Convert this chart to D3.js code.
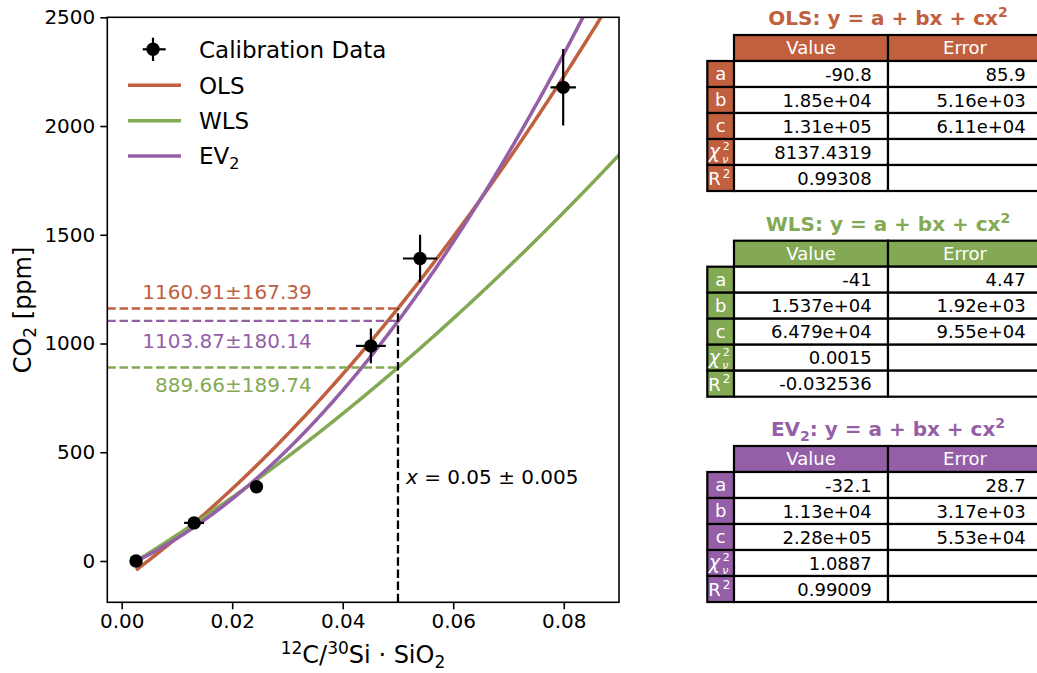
<!DOCTYPE html>
<html>
<head>
<meta charset="utf-8">
<script src="https://cdn.jsdelivr.net/npm/d3@7"></script>
<style>
body { margin: 0; background: white; }
text { font-family: "DejaVu Sans", sans-serif; }
</style>
</head>
<body>
<script>
// Données de calibration
const xData = [0.0026, 0.0131, 0.0244, 0.0451, 0.0540, 0.0799];
const yData = [0, 175, 341, 989, 1391, 2178];
const xErr = [0.0005, 0.0018, 0.0005, 0.0027, 0.0031, 0.0023];
const yErr = [10, 15, 15, 80, 109, 176];

// Ajustements
const fitNames = ["OLS", "WLS", "EV2"];
const fitColors = ["#c1603f", "#84a955", "#955fa8"];

// Valeurs des tableaux (a, b, c, chi2, R2)
const olsValue = ["-90.8", "1.85e+04", "1.31e+05", "8137.4319", "0.99308"];
const olsError = ["85.9", "5.16e+03", "6.11e+04", "", ""];
const wlsValue = ["-41", "1.537e+04", "6.479e+04", "0.0015", "-0.032536"];
const wlsError = ["4.47", "1.92e+03", "9.55e+04", "", ""];
const ev2Value = ["-32.1", "1.13e+04", "2.28e+05", "1.0887", "0.99009"];
const ev2Error = ["28.7", "3.17e+03", "5.53e+04", "", ""];
const fitValues = [olsValue, wlsValue, ev2Value];
const fitErrors = [olsError, wlsError, ev2Error];

// Estimations à x = 0.05
const xEstimate = 0.05;
const xEstimateErr = 0.005;
const estValue = [1160.91, 889.66, 1103.87];
const estError = [167.39, 189.74, 180.14];

const xTicks = [0, 0.02, 0.04, 0.06, 0.08];
const yTicks = [0, 500, 1000, 1500, 2000, 2500];

//Création du canva SVG
const svg = d3.select("body")
    .append("svg")
    .attr("width", 1037)
    .attr("height", 673)

const x = d3.scaleLinear().domain([-0.0026, 0.09]).range([107.3, 619])
const y = d3.scaleLinear().domain([-190, 2500]).range([602.3, 17.3])

svg.append("clipPath")
    .attr("id", "plot-clip")
    .append("rect")
    .attr("x", 107.3)
    .attr("y", 17.3)
    .attr("width", 619 - 107.3)
    .attr("height", 602.3 - 17.3)

//Axes
const xAxis = svg.append("g")
    .attr("transform", "translate(0,602.3)")
    .call(d3.axisBottom(x).tickValues(xTicks).tickFormat(d3.format(".2f"))
        .tickSize(7).tickPadding(5).tickSizeOuter(0))
xAxis.select(".domain").remove()

const yAxis = svg.append("g")
    .attr("transform", "translate(107.3,0)")
    .call(d3.axisLeft(y).tickValues(yTicks).tickFormat(d3.format("d"))
        .tickSize(7).tickPadding(5).tickSizeOuter(0))
yAxis.select(".domain").remove()

svg.selectAll(".tick text")
    .style("font-size", "20px")
    .style("font-family", "DejaVu Sans")
    .attr("fill", "#000")
svg.selectAll(".tick line")
    .attr("stroke", "#000")
    .attr("stroke-width", 1.6)

//Courbes des ajustements (a + bx + cx²)
const xCurve = d3.range(xData[0], 0.0906, 0.0002)
const plot = svg.append("g").attr("clip-path", "url(#plot-clip)")

fitValues.forEach((vals, i) => {
    const a = parseFloat(vals[0]), b = parseFloat(vals[1]), c = parseFloat(vals[2])
    const line = d3.line()
        .x(d => x(d))
        .y(d => y(a + b * d + c * d * d))
    plot.append("path")
        .datum(xCurve)
        .attr("d", line)
        .attr("fill", "none")
        .attr("stroke", fitColors[i])
        .attr("stroke-width", 3.5)
})

//Lignes pointillées des estimations
estValue.forEach((v, i) => {
    plot.append("line")
        .attr("x1", 107.3)
        .attr("x2", x(xEstimate))
        .attr("y1", y(v))
        .attr("y2", y(v))
        .attr("stroke", fitColors[i])
        .attr("stroke-width", 2.3)
        .attr("stroke-dasharray", "8.5,3.7")
})

plot.append("line")
    .attr("x1", x(xEstimate))
    .attr("x2", x(xEstimate))
    .attr("y1", 602.3)
    .attr("y2", y(d3.max(estValue)))
    .attr("stroke", "#000")
    .attr("stroke-width", 2.3)
    .attr("stroke-dasharray", "8.5,3.7")

//Textes des estimations
const labelOffsets = [-10, 24.3, 27.5]
estValue.forEach((v, i) => {
    svg.append("text")
        .attr("x", x(0.0344))
        .attr("y", y(v) + labelOffsets[i])
        .attr("text-anchor", "end")
        .style("font-size", "20px")
        .attr("fill", fitColors[i])
        .text(v.toFixed(2) + "±" + estError[i].toFixed(2))
})

const xText = svg.append("text")
    .attr("x", x(xEstimate) + 8)
    .attr("y", 484)
    .style("font-size", "20px")
xText.append("tspan").style("font-style", "italic").text("x")
xText.append("tspan").text(" = " + xEstimate.toFixed(2) + " ± " + xEstimateErr.toFixed(3))

//Points de calibration avec barres d'erreur
const points = plot.selectAll(".pt")
    .data(xData)
    .enter()
    .append("g")

points.append("line")
    .attr("x1", (d, i) => x(d - xErr[i]))
    .attr("x2", (d, i) => x(d + xErr[i]))
    .attr("y1", (d, i) => y(yData[i]))
    .attr("y2", (d, i) => y(yData[i]))
    .attr("stroke", "#000")
    .attr("stroke-width", 2.2)

points.append("line")
    .attr("x1", d => x(d))
    .attr("x2", d => x(d))
    .attr("y1", (d, i) => y(yData[i] - yErr[i]))
    .attr("y2", (d, i) => y(yData[i] + yErr[i]))
    .attr("stroke", "#000")
    .attr("stroke-width", 2.2)

points.append("circle")
    .attr("cx", d => x(d))
    .attr("cy", (d, i) => y(yData[i]))
    .attr("r", 6.7)
    .attr("fill", "#000")

//Cadre
svg.append("rect")
    .attr("x", 107.3)
    .attr("y", 17.3)
    .attr("width", 619 - 107.3)
    .attr("height", 602.3 - 17.3)
    .attr("fill", "none")
    .attr("stroke", "#000")
    .attr("stroke-width", 1.6)

//Titres des axes
const yLabel = svg.append("text")
    .attr("transform", "translate(31,310) rotate(-90)")
    .attr("text-anchor", "middle")
    .style("font-size", "24px")
yLabel.append("tspan").text("CO")
yLabel.append("tspan").attr("dy", 5).style("font-size", "17px").text("2")
yLabel.append("tspan").attr("dy", -5).text(" [ppm]")

const xLabel = svg.append("text")
    .attr("x", 363)
    .attr("y", 663)
    .attr("text-anchor", "middle")
    .style("font-size", "24px")
xLabel.append("tspan").attr("dy", -9).style("font-size", "17px").text("12")
xLabel.append("tspan").attr("dy", 9).text("C/")
xLabel.append("tspan").attr("dy", -9).style("font-size", "17px").text("30")
xLabel.append("tspan").attr("dy", 9).text("Si · SiO")
xLabel.append("tspan").attr("dy", 5).style("font-size", "17px").text("2")

//Légende
const legend = svg.append("g")
legend.append("line").attr("x1", 153).attr("x2", 153).attr("y1", 37.7).attr("y2", 61)
    .attr("stroke", "#000").attr("stroke-width", 2.2)
legend.append("line").attr("x1", 142.7).attr("x2", 165.7).attr("y1", 49.3).attr("y2", 49.3)
    .attr("stroke", "#000").attr("stroke-width", 2.2)
legend.append("circle").attr("cx", 153).attr("cy", 49.3).attr("r", 6.7).attr("fill", "#000")
legend.append("text").attr("x", 199).attr("y", 58.3).style("font-size", "23px").text("Calibration Data")

fitNames.forEach((name, i) => {
    const ly = 85.3 + i * 35.4
    legend.append("line")
        .attr("x1", 128).attr("x2", 181)
        .attr("y1", ly).attr("y2", ly)
        .attr("stroke", fitColors[i])
        .attr("stroke-width", 3.5)
    const t = legend.append("text")
        .attr("x", 199)
        .attr("y", ly + 8.3)
        .style("font-size", "23px")
    if (name === "EV2") {
        t.append("tspan").text("EV")
        t.append("tspan").attr("dy", 5).style("font-size", "16px").text("2")
    } else {
        t.text(name)
    }
})

//Tableaux des paramètres
const tableTops = [35, 240.7, 446]
const rowH = 26, labelX = 707.3, labelW = 26.7, colW = 154
const rowNames = ["a", "b", "c", "chi", "R2"]

fitNames.forEach((name, k) => {
    const top = tableTops[k]
    const color = fitColors[k]
    const g = svg.append("g")

    //Titre
    const title = g.append("text")
        .attr("x", labelX + labelW + colW)
        .attr("y", top - 10)
        .attr("text-anchor", "middle")
        .style("font-size", "20px")
        .style("font-weight", "bold")
        .attr("fill", color)
    if (name === "EV2") {
        title.append("tspan").text("EV")
        title.append("tspan").attr("dy", 5).style("font-size", "14px").text("2")
        title.append("tspan").attr("dy", -5).text(": y = a + bx + cx")
    } else {
        title.append("tspan").text(name + ": y = a + bx + cx")
    }
    title.append("tspan").attr("dy", -8).style("font-size", "14px").text("2")

    //En-têtes
    const headers = ["Value", "Error"]
    headers.forEach((h, j) => {
        const cx = labelX + labelW + j * colW
        g.append("rect")
            .attr("x", cx).attr("y", top)
            .attr("width", colW).attr("height", rowH)
            .attr("fill", color).attr("stroke", "#000").attr("stroke-width", 2.2)
        g.append("text")
            .attr("x", cx + colW / 2)
            .attr("y", top + rowH / 2 + 6)
            .attr("text-anchor", "middle")
            .style("font-size", "18px")
            .attr("fill", "#fff")
            .text(h)
    })

    //Lignes
    rowNames.forEach((r, i) => {
        const ry = top + rowH * (i + 1)
        g.append("rect")
            .attr("x", labelX).attr("y", ry)
            .attr("width", labelW).attr("height", rowH)
            .attr("fill", color).attr("stroke", "#000").attr("stroke-width", 2.2)
        const cols = [fitValues[k][i], fitErrors[k][i]]
        cols.forEach((v, j) => {
            const cx = labelX + labelW + j * colW
            g.append("rect")
                .attr("x", cx).attr("y", ry)
                .attr("width", colW).attr("height", rowH)
                .attr("fill", "#fff").attr("stroke", "#000").attr("stroke-width", 2.2)
            g.append("text")
                .attr("x", cx + colW - 16.3)
                .attr("y", ry + rowH / 2 + 6.5)
                .attr("text-anchor", "end")
                .style("font-size", "18px")
                .text(v)
        })
        if (r === "chi") {
            // χ avec exposant 2 et indice ν
            const chi = g.append("text").attr("x", labelX + 1.5).attr("y", ry + 19)
                .style("font-size", "19px").attr("fill", "#fff")
            chi.append("tspan").style("font-style", "italic").text("χ")
            chi.append("tspan").attr("x", labelX + 15.5).attr("dy", -8)
                .style("font-size", "11px").text("2")
            chi.append("tspan").attr("x", labelX + 15).attr("dy", 13)
                .style("font-size", "11px").style("font-style", "italic").text("ν")
        } else if (r === "R2") {
            const rr = g.append("text").attr("x", labelX + 1).attr("y", ry + 20)
                .style("font-size", "18px").attr("fill", "#fff")
            rr.append("tspan").text("R")
            rr.append("tspan").attr("x", labelX + 15.5).attr("dy", -7.5)
                .style("font-size", "12px").text("2")
        } else {
            g.append("text")
                .attr("x", labelX + labelW / 2)
                .attr("y", ry + rowH / 2 + 6)
                .attr("text-anchor", "middle")
                .style("font-size", "18px")
                .attr("fill", "#fff")
                .text(r)
        }
    })
})
</script>
</body>
</html>
